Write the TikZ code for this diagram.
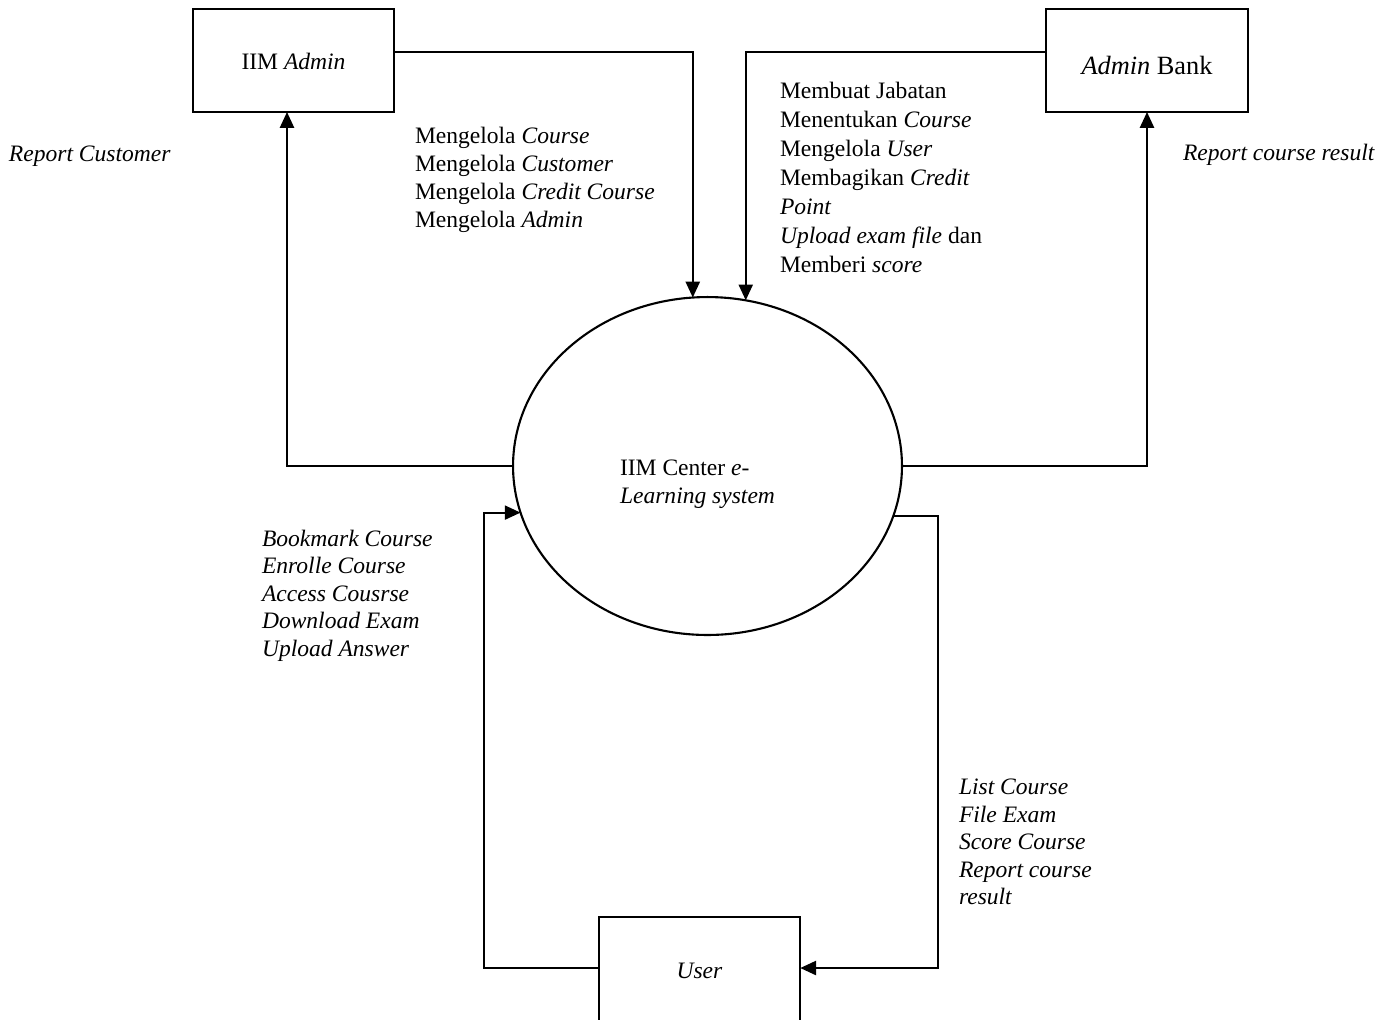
\documentclass[tikz,border=0pt]{standalone}
\usepackage{fontspec}
\setmainfont{Liberation Serif}
\usetikzlibrary{arrows.meta,shapes.geometric}
\begin{document}
\begin{tikzpicture}[x=0.02cm,y=-0.02cm,
  every node/.style={inner sep=0pt, outer sep=0pt, font=\fontsize{13.4}{15.9}\selectfont},
  entity/.style={draw, line width=1.2pt, minimum width=4.03cm, minimum height=2.06cm},
  proc/.style={draw, ellipse, line width=1.2pt, minimum width=7.78cm, minimum height=6.76cm},
  flow/.style={line width=1.2pt, -{Triangle[length=9pt,width=8pt]}},
  lbl/.style={anchor=base west, align=left}]
\useasboundingbox (0,0) rectangle (1392,1019);
\clip (0,0) rectangle (1392,1019);

% entities and process
\node[entity, text height=10.8pt, text depth=0pt] (iim) at (293.5,60.5) {IIM \textit{Admin}};
\node[entity, text height=16.4pt, text depth=0pt, font=\fontsize{15}{18}\selectfont] (bank) at (1147,60.5) {\textit{Admin} Bank};
\node[entity, minimum height=2.08cm, text height=11.3pt, text depth=0pt] (user) at (699.5,969) {\textit{User}};
\node[proc] (ell) at (707.5,466) {};
% multi-line labels: base anchor is the last line's baseline
\node[lbl, font=\fontsize{13.4}{15.9}\selectfont] (ctext) at (620,503) {IIM Center \textit{e-}\\\textit{Learning system}};

% helper coordinates
\coordinate (y52) at (0,52);
\coordinate (y968) at (0,968);
\coordinate (x287) at (287,0);
\coordinate (x484) at (484,0);
\coordinate (x938) at (938,0);

% flows
\draw[flow] (iim.east |- y52) -| (ell.95.3);
\draw[flow] (bank.west |- y52) -| (ell.77.3);
\draw[flow] (ell.west) -| (x287 |- iim.south);
\draw[flow] (ell.east) -| (bank.south);
\draw[flow] (user.west |- y968) -| (x484 |- ell.194.7) -- (ell.194.7);
\draw[flow] (ell.345.3) -- (x938 |- ell.345.3) |- (user.east |- y968);

% labels
\node[lbl] (rc) at (9,161) {\textit{Report Customer}};
\node[lbl] (rcr) at (1183,160) {\textit{Report course result}};
\node[lbl, font=\fontsize{13.4}{15.9}\selectfont] (mng) at (415,227.6)
  {Mengelola \textit{Course}\\Mengelola \textit{Customer}\\Mengelola \textit{Credit Course}\\Mengelola \textit{Admin}};
\node[lbl, font=\fontsize{13.4}{16.5}\selectfont] (mbt) at (780,272.3)
  {Membuat Jabatan\\Menentukan \textit{Course}\\Mengelola \textit{User}\\Membagikan \textit{Credit}\\\textit{Point}\\\textit{Upload exam file} dan\\Memberi \textit{score}};
\node[lbl, font=\fontsize{13.4}{15.6}\selectfont] (bkm) at (262,656)
  {\textit{Bookmark Course}\\\textit{Enrolle Course}\\\textit{Access Cousrse}\\\textit{Download Exam}\\\textit{Upload Answer}};
\node[lbl, font=\fontsize{13.4}{15.7}\selectfont] (lst) at (959,904.8)
  {\textit{List Course}\\\textit{File Exam}\\\textit{Score Course}\\\textit{Report course}\\\textit{result}};
\end{tikzpicture}
\end{document}
